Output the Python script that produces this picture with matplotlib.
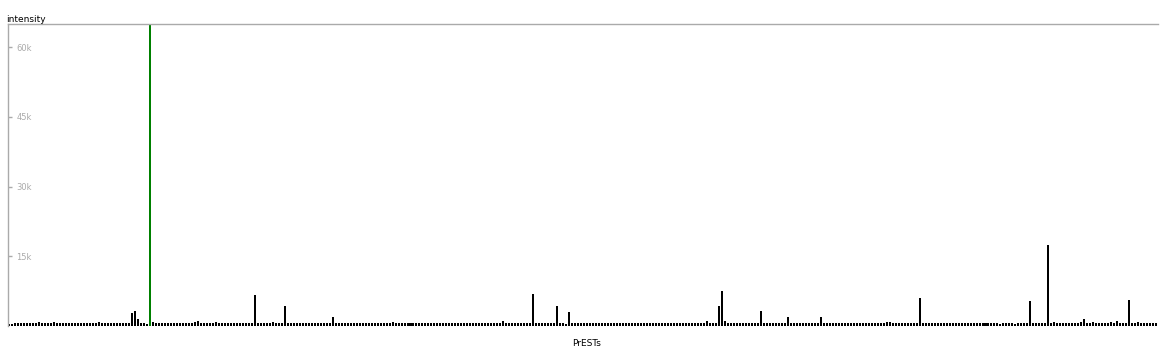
import matplotlib
matplotlib.use("Agg")
import matplotlib.pyplot as plt

# intensity per PrEST (one bar each)
intensity = [
    350, 400, 650, 600, 700, 600, 700, 600, 600, 700, 800, 750, 700, 700, 700, 950,
    700, 700, 700, 700, 700, 550, 700, 550, 550, 550, 700, 550, 550, 550, 800, 700,
    700, 550, 550, 700, 700, 550, 700, 700, 550,
    2900, 3300, 1500, 700, 700, 500, 68000,
    850, 550, 550, 550, 550, 550, 550, 550, 700, 550, 700, 700, 550, 700, 850, 1050,
    700, 550, 550, 700, 700, 850, 700, 550, 550, 550, 550, 550, 550, 550, 550, 550,
    550, 550,
    6700, 700, 700, 700, 550, 700, 850, 700, 700, 700, 4200,
    700, 700, 700, 550, 700, 550, 700, 550, 700, 700, 550, 700, 700, 700, 550, 2000,
    700, 700, 700, 550, 550, 700, 700, 700, 700, 550, 550, 550, 700, 550, 550, 550,
    700, 700,
    700, 850, 550, 700, 700, 700, 550, 700, 550, 700, 700, 550, 700, 550, 700, 550,
    550, 700, 550, 550, 550, 550, 700, 700, 550, 700, 700, 550, 700, 700, 700, 550,
    700, 700, 550, 700, 700, 700,
    1100, 700, 550, 700, 700, 700, 700, 700, 700, 700, 6900,
    700, 700, 550, 700, 700, 700, 700, 4200, 700, 700, 500, 3000,
    700, 700, 700, 700, 700, 550, 550, 550, 550, 550, 550, 550, 550, 550, 550, 700,
    550, 550, 550, 550, 550, 700, 550, 700, 550, 700, 700, 550, 700, 700, 550, 550,
    700, 550, 700, 550, 700, 700, 550, 550, 700, 550, 550, 550, 550,
    1100, 550, 550, 550, 4200, 7600, 1000,
    550, 550, 550, 550, 550, 550, 550, 550, 550, 550, 550, 3300,
    700, 550, 550, 700, 700, 700, 700, 550, 2000,
    700, 700, 700, 700, 700, 550, 700, 700, 550, 550, 2000,
    700, 700, 550, 550, 550, 550, 550, 550, 550, 550, 700, 700, 700, 700, 700, 700,
    700, 700, 700, 700, 700, 800, 800, 700, 550, 700, 700, 550, 700, 700, 700, 700,
    6000,
    550, 550, 700, 700, 700, 700, 700, 700, 700, 550, 700, 550, 700, 700, 700, 550,
    700, 550,
    550, 550, 550, 550, 550, 550, 550, 550, 400, 700, 550, 550, 550, 400, 550, 550,
    700, 700,
    5400, 700, 550, 550, 550, 700, 17500,
    700, 850, 700, 700, 700, 700, 700, 700, 700, 700, 850, 1500,
    700, 700, 850, 700, 700, 700, 700, 700, 850, 700, 1000, 700, 700, 700, 5600,
    700, 700, 850, 550, 700, 700, 700, 550, 550,
]
assert len(intensity) == 384
highlight = 47  # the selected PrEST, drawn in green

y_ticks = [15000, 30000, 45000, 60000]
y_tick_labels = ["15k", "30k", "45k", "60k"]

colors = ["#008000" if i == highlight else "black" for i in range(len(intensity))]

fig = plt.figure(figsize=(11.64, 3.5), dpi=100)
ax = fig.add_axes([8 / 1164, 24 / 350, 1150 / 1164, 302 / 350])

ax.bar(range(len(intensity)), intensity, width=0.67, color=colors,
       linewidth=0, antialiased=False)

ax.set_xlim(-0.4, len(intensity) - 0.4)
ax.set_ylim(0, 65000)

for side in ["right", "bottom"]:
    ax.spines[side].set_visible(False)
for side in ["left", "top"]:
    ax.spines[side].set_color("#aaaaaa")
    ax.spines[side].set_linewidth(1)

ax.set_xticks([])
ax.set_yticks(y_ticks)
ax.set_yticklabels(y_tick_labels)
ax.tick_params(axis="y", direction="in", length=3, width=1, color="#aaaaaa",
               labelcolor="#aaaaaa", labelsize=6, pad=-6)
for lbl in ax.get_yticklabels():
    lbl.set_horizontalalignment("left")

fig.text(6 / 1164, 1 - 22 / 350, "intensity", fontsize=6.5, color="black",
         va="baseline", ha="left")
fig.text(587 / 1164, 1 - 346 / 350, "PrESTs", fontsize=6.5, color="black",
         va="baseline", ha="center")

fig.savefig("out.png", dpi=100, facecolor="white")
